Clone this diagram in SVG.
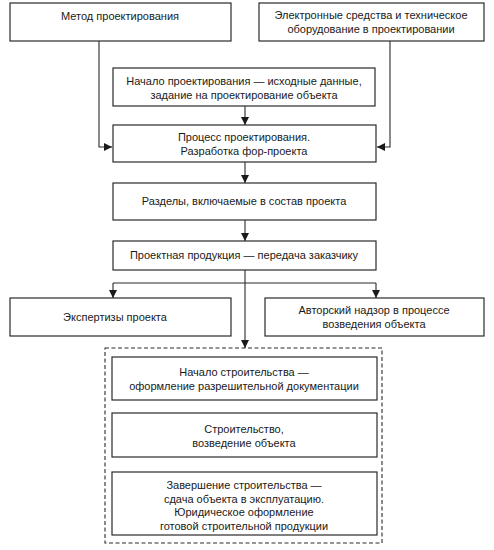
<svg xmlns="http://www.w3.org/2000/svg" width="494" height="550" viewBox="0 0 494 550">
<defs>
<style>
.box{fill:#fff;stroke:#2a2a2a;stroke-width:1.2}
.dash{fill:none;stroke:#2a2a2a;stroke-width:1.1;stroke-dasharray:4 2.5}
.ln{fill:none;stroke:#2a2a2a;stroke-width:1.1}
text{font-family:"Liberation Sans",Arial,sans-serif;font-size:11px;fill:#1a1a1a;text-anchor:middle}
</style>
<marker id="ah" viewBox="0 0 8 8" refX="8" refY="4" markerWidth="8" markerHeight="8" markerUnits="userSpaceOnUse" orient="auto">
<path d="M0,0 L8,4 L0,8 Z" fill="#1a1a1a"/>
</marker>
</defs>
<rect width="494" height="550" fill="#fff"/>
<g id="connectors">
<polyline class="ln" points="99,41 99,147 112,147" marker-end="url(#ah)"/>
<polyline class="ln" points="390,41 390,147 377,147" marker-end="url(#ah)"/>
<line class="ln" x1="245" y1="106" x2="245" y2="125" marker-end="url(#ah)"/>
<line class="ln" x1="245" y1="162" x2="245" y2="183" marker-end="url(#ah)"/>
<line class="ln" x1="245" y1="220" x2="245" y2="241" marker-end="url(#ah)"/>
<line class="ln" x1="245" y1="270" x2="245" y2="348" marker-end="url(#ah)"/>
<line class="ln" x1="113" y1="283" x2="376" y2="283"/>
<line class="ln" x1="113" y1="283" x2="113" y2="298" marker-end="url(#ah)"/>
<line class="ln" x1="376" y1="283" x2="376" y2="298" marker-end="url(#ah)"/>
</g>
<g id="n1"><rect class="box" x="10" y="3" width="221" height="38"/><text x="120" y="20">Метод проектирования</text></g>
<g id="n2"><rect class="box" x="259" y="3" width="225" height="38"/><text x="371" y="19">Электронные средства и техническое</text><text x="371" y="33">оборудование в проектировании</text></g>
<g id="n3"><rect class="box" x="113" y="68" width="262" height="38"/><text x="244" y="85">Начало проектирования — исходные данные,</text><text x="244" y="99">задание на проектирование объекта</text></g>
<g id="n4"><rect class="box" x="113" y="125" width="263" height="37"/><text x="244" y="141">Процесс проектирования.</text><text x="244" y="155">Разработка фор-проекта</text></g>
<g id="n5"><rect class="box" x="113" y="183" width="263" height="37"/><text x="244" y="205">Разделы, включаемые в состав проекта</text></g>
<g id="n6"><rect class="box" x="113" y="241" width="263" height="29"/><text x="244" y="259">Проектная продукция — передача заказчику</text></g>
<g id="n7"><rect class="box" x="10" y="298" width="221" height="38"/><text x="115" y="321">Экспертизы проекта</text></g>
<g id="n8"><rect class="box" x="265" y="298" width="219" height="38"/><text x="374" y="314">Авторский надзор в процессе</text><text x="374" y="328">возведения объекта</text></g>
<g id="construction"><rect class="dash" x="105" y="348" width="277" height="195"/></g>
<g id="n9"><rect class="box" x="112" y="357" width="265" height="43"/><text x="244" y="376">Начало строительства —</text><text x="244" y="390">оформление разрешительной документации</text></g>
<g id="n10"><rect class="box" x="112" y="413" width="265" height="44"/><text x="244" y="433">Строительство,</text><text x="244" y="447">возведение объекта</text></g>
<g id="n11"><rect class="box" x="112" y="472" width="265" height="63"/><text x="244" y="489">Завершение строительства —</text><text x="244" y="503">сдача объекта в эксплуатацию.</text><text x="244" y="516">Юридическое оформление</text><text x="244" y="530">готовой строительной продукции</text></g>
</svg>
